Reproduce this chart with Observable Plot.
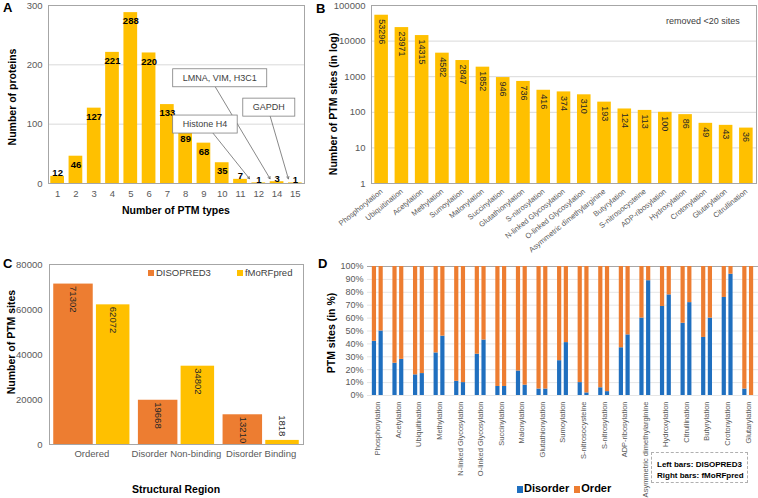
<!DOCTYPE html>
<html><head><meta charset="utf-8">
<script src="https://cdn.jsdelivr.net/npm/d3@7"></script>
<script src="https://cdn.jsdelivr.net/npm/@observablehq/plot@0.6"></script>
<style>
body{margin:0;background:#fff;font-family:"Liberation Sans",Arial,sans-serif;}
#root{position:relative;width:758px;height:498px;overflow:hidden;background:#fff;}
#root > svg, .abs{position:absolute;}
.letter{position:absolute;font-weight:bold;font-size:13px;color:#000;line-height:1;}
.title{position:absolute;font-weight:bold;font-size:10.5px;color:#000;white-space:nowrap;line-height:1;transform:translate(-50%,-50%);}
.vtitle{position:absolute;font-weight:bold;font-size:10.5px;color:#000;white-space:nowrap;line-height:1;transform:translate(-50%,-50%) rotate(-90deg);}
.note{position:absolute;font-size:9px;color:#404040;white-space:nowrap;line-height:1;}
.sw{display:inline-block;vertical-align:middle;}
</style></head><body><div id="root"></div>
<script>
// ---------- DATA ----------
// Panel A
const aTypes = ["1","2","3","4","5","6","7","8","9","10","11","12","14","15"];
const aProteins = [12,46,127,221,288,220,133,89,68,35,7,1,3,1];
const aYTicks = [0,100,200,300];
const aNotes = ["Histone H4","LMNA, VIM, H3C1","GAPDH"];
const aNoteTargets = ["11","14","15"];
// Panel B
const bTypes = ["Phosphorylation","Ubiquitination","Acetylation","Methylation","Sumoylation","Malonylation","Succinylation","Glutathionylation","S-nitrosylation","N-linked Glycosylation","O-linked Glycosylation","Asymmetric dimethylarginine","Butyrylation","S-nitrosocysteine","ADP-ribosylation","Hydroxylation","Crotonylation","Glutarylation","Citrullination"];
const bSites = [53296,23971,14315,4582,2847,1852,946,736,416,374,310,193,124,113,100,86,49,43,36];
const bYTicks = [1,10,100,1000,10000,100000];
// Panel C
const cRegions = ["Ordered","Disorder Non-binding","Disorder Binding"];
const cMethods = ["DISOPRED3","fMoRFpred"];
const cDisopred = [71302,19668,13210];
const cFmorf = [62072,34802,1818];
const cYTicks = [0,20000,40000,60000,80000];
// Panel D
const dTypes = ["Phosphorylation","Acetylation","Ubiquitination","Methylation","N-linked Glycosylation","O-linked Glycosylation","Succinylation","Malonylation","Glutathionylation","Sumoylation","S-nitrosocysteine","S-nitrosylation","ADP-ribosylation","Asymmetric dimethylarginine","Hydroxylation","Citrullination","Butyrylation","Crotonylation","Glutarylation"];
const dDisorderLeft  = [42,25,16,33,11,32,7,19,5,27,10,6,37,60,69,56,45,76,5];   // DISOPRED3, % disorder
const dDisorderRight = [50,28,17,46,10,43,7,8,5,41,2,3,47,89,78,72,60,94,0];     // fMoRFpred, % disorder
const dParts = ["Disorder","Order"];
const dYTicks = [0,10,20,30,40,50,60,70,80,90,100];

// ---------- STYLE ----------
const GOLD = "#FFC000", ORANGE = "#ED7D31", BLUE = "#1F6FBF";
const FRAME = "#a6a6a6", GRID = "#d9d9d9";
const FONT = "'Liberation Sans', Arial, sans-serif";
const root = document.getElementById("root");

function place(svg, left, top){ svg.style.left = left+"px"; svg.style.top = top+"px"; root.appendChild(svg); return svg; }
function addDiv(cls, html, left, top, extra){ const d = document.createElement("div"); d.className = cls; d.innerHTML = html; d.style.left = left+"px"; d.style.top = top+"px"; if (extra) Object.assign(d.style, extra); root.appendChild(d); return d; }
function setAxisFont(svg, prefix, size){ svg.querySelectorAll(`[aria-label^="${prefix}"]`).forEach(g => g.style.fontSize = size); }

// ---------- PANEL A ----------
{
  const W = 318, H = 220, ml = 48, mr = 14, mt = 5, mb = 37;
  const data = aTypes.map((t,i)=>({type:t, n:aProteins[i]}));
  // annotation layout (box anchor & arrow geometry, in data units)
  const notes = [
    {label:aNotes[0], x:"9",  y:100,   dx:1},
    {label:aNotes[1], x:"10", y:178,   dx:-2.5},
    {label:aNotes[2], x:"12", y:128.5, dx:10}
  ];
  const arrowsR = [{x1:"9", y1:85, x2:aNoteTargets[0], y2:8}];
  const arrowsL = [{x1:"10", y1:163, x2:aNoteTargets[1], y2:8}, {x1:"14", y1:114, x2:aNoteTargets[2], y2:8}];
  const p = Plot.plot({
    width:W, height:H, marginLeft:ml, marginRight:mr, marginTop:mt, marginBottom:mb,
    style:{fontFamily:FONT, fontSize:"9.5px", color:"#595959", background:"transparent", overflow:"visible"},
    x:{domain:aTypes, round:false, paddingInner:0.25, paddingOuter:0.125, label:null, tickSize:0, tickPadding:7},
    y:{domain:[0,300], ticks:aYTicks, label:null, tickSize:0, tickPadding:6},
    marks:[
      Plot.ruleY(aYTicks, {stroke:GRID}),
      Plot.barY(data, {x:"type", y:"n", fill:GOLD}),
      Plot.text(data.filter(d=>d.n>=20), {x:"type", y:"n", text:d=>String(d.n), dy:8.5, fill:"#000", fontWeight:"bold", fontSize:9.5}),
      Plot.text(data.filter(d=>d.n<20), {x:"type", y:"n", text:d=>String(d.n), dy:-3, fill:"#000", fontWeight:"bold", fontSize:9.5}),
      Plot.arrow(arrowsR, {x1:"x1", y1:"y1", x2:"x2", y2:"y2", dx:9, stroke:"#555", strokeWidth:0.7, headLength:5}),
      Plot.arrow(arrowsL, {x1:"x1", y1:"y1", x2:"x2", y2:"y2", dx:-7, stroke:"#555", strokeWidth:0.7, headLength:5}),
      ...notes.map(n => Plot.text([n], {x:"x", y:"y", text:"label", dx:n.dx, fill:"#404040", fontSize:9})),
      Plot.frame({stroke:FRAME})
    ]
  });
  place(p, 0, 0);
  // boxes behind the annotation labels
  const sb = p.getBoundingClientRect();
  p.querySelectorAll("text").forEach(t => {
    if (!aNotes.includes(t.textContent)) return;
    const r = t.getBoundingClientRect();
    const rect = document.createElementNS("http://www.w3.org/2000/svg","rect");
    rect.setAttribute("x", r.left - sb.left - 10);
    rect.setAttribute("y", r.top - sb.top - 4);
    rect.setAttribute("width", r.width + 20);
    rect.setAttribute("height", r.height + 8);
    rect.setAttribute("fill", "#fff");
    rect.setAttribute("stroke", "#7f7f7f");
    rect.setAttribute("stroke-width", "0.8");
    const g = t.closest("g");
    g.parentNode.insertBefore(rect, g);
  });
  addDiv("letter", "A", 3, 1);
  addDiv("vtitle", "Number of proteins", 12, 97);
  addDiv("title", "Number of PTM types", 176, 210);
}

// ---------- PANEL B ----------
{
  const W = 438, H = 255;
  const data = bTypes.map((t,i)=>({type:t, n:bSites[i]}));
  const p = Plot.plot({
    width:W, height:H, marginLeft:51, marginRight:2, marginTop:5, marginBottom:72,
    style:{fontFamily:FONT, fontSize:"9.5px", color:"#595959", background:"transparent", overflow:"visible"},
    x:{domain:bTypes, round:false, paddingInner:0.33, paddingOuter:0.165, tickRotate:-39, label:null, tickSize:0, tickPadding:7},
    y:{type:"log", domain:[1,100000], ticks:bYTicks, tickFormat:d=>String(d), label:null, tickSize:0, tickPadding:6},
    marks:[
      Plot.ruleY(bYTicks, {stroke:GRID}),
      Plot.barY(data, {x:"type", y1:1, y2:"n", fill:GOLD}),
      Plot.text(data, {x:"type", y:"n", text:d=>String(d.n), rotate:90, textAnchor:"start", dy:4, fill:"#262626", fontSize:9}),
      Plot.frame({stroke:FRAME})
    ]
  });
  place(p, 320, 0);
  setAxisFont(p, "x-axis", "7.5px");
  addDiv("letter", "B", 316, 2);
  addDiv("vtitle", "Number of PTM sites (in log)", 333, 104);
  addDiv("note", "removed &lt;20 sites", 666, 17);
}

// ---------- PANEL C ----------
{
  const W = 318, H = 215, ml = 49, mr = 15, pI = 0.1, pO = 0.05;
  const bw = (W-ml-mr)/(cRegions.length - pI + 2*pO)*(1-pI);
  const wL = 39.5, wR = 33.5;
  const data = cRegions.map((r,i)=>({region:r, a:cDisopred[i], b:cFmorf[i]}));
  const tx = {fill:"#262626", fontSize:9.5, rotate:90};
  const p = Plot.plot({
    width:W, height:H, marginLeft:ml, marginRight:mr, marginTop:14, marginBottom:21,
    style:{fontFamily:FONT, fontSize:"9.5px", color:"#595959", background:"transparent", overflow:"visible"},
    x:{domain:cRegions, round:false, paddingInner:pI, paddingOuter:pO, label:null, tickSize:0, tickPadding:6},
    y:{domain:[0,80000], ticks:cYTicks, tickFormat:d=>String(d), label:null, tickSize:0, tickPadding:7},
    marks:[
      Plot.barY(data, {x:"region", y:"a", fill:ORANGE, insetRight:bw-wL}),
      Plot.barY(data, {x:"region", y:"b", fill:GOLD, insetLeft:bw-wR}),
      Plot.text(data.filter(d=>d.a>=5000), {x:"region", y:"a", text:d=>String(d.a), textAnchor:"start", dx:-bw/2+wL/2, dy:2, ...tx}),
      Plot.text(data.filter(d=>d.a<5000), {x:"region", y:"a", text:d=>String(d.a), textAnchor:"end", dx:-bw/2+wL/2, dy:-4, ...tx}),
      Plot.text(data.filter(d=>d.b>=5000), {x:"region", y:"b", text:d=>String(d.b), textAnchor:"start", dx:bw/2-wR/2, dy:2, ...tx}),
      Plot.text(data.filter(d=>d.b<5000), {x:"region", y:"b", text:d=>String(d.b), textAnchor:"end", dx:bw/2-wR/2, dy:-4, ...tx}),
      Plot.frame({stroke:FRAME})
    ]
  });
  place(p, 0, 250);
  addDiv("letter", "C", 3, 257);
  addDiv("vtitle", "Number of PTM sites", 11, 342);
  addDiv("title", "Structural Region", 176, 489);
  const leg = `<span class="sw" style="width:6px;height:6px;background:${ORANGE};margin-right:2px"></span>${cMethods[0]}` +
              `<span class="sw" style="width:6px;height:6px;background:${GOLD};margin:0 2px 0 26px"></span>${cMethods[1]}`;
  addDiv("note", leg, 148, 268, {fontSize:"9.5px", color:"#404040"});
}

// ---------- PANEL D ----------
{
  const W = 438, H = 243, ml = 47, mr = 0, pI = 0.47, pO = 0.235;
  const bw = (W-ml-mr)/(dTypes.length - pI + 2*pO)*(1-pI);
  const barW = 4.2;
  const mk = arr => dTypes.flatMap((t,i)=>[{type:t, part:dParts[0], v:arr[i]}, {type:t, part:dParts[1], v:100-arr[i]}]);
  const p = Plot.plot({
    width:W, height:H, marginLeft:ml, marginRight:mr, marginTop:11, marginBottom:103,
    style:{fontFamily:FONT, fontSize:"9px", color:"#595959", background:"transparent", overflow:"visible"},
    x:{domain:dTypes, round:false, paddingInner:pI, paddingOuter:pO, tickRotate:-90, label:null, tickSize:0, tickPadding:6},
    y:{domain:[0,100], ticks:dYTicks, tickFormat:d=>d+"%", label:null, tickSize:0, tickPadding:4},
    color:{domain:dParts, range:[BLUE, ORANGE]},
    marks:[
      Plot.ruleY(dYTicks.slice(0,-1), {stroke:"#e6e6e6"}),
      Plot.ruleY([100], {stroke:FRAME}),
      Plot.barY(mk(dDisorderLeft),  {x:"type", y:"v", fill:"part", insetRight:bw-barW}),
      Plot.barY(mk(dDisorderRight), {x:"type", y:"v", fill:"part", insetLeft:bw-barW})
    ]
  });
  place(p, 320, 255);
  setAxisFont(p, "x-axis", "7.5px");
  addDiv("letter", "D", 318, 257);
  addDiv("vtitle", "PTM sites (in %)", 331, 333);
  const leg = `<span class="sw" style="width:6px;height:7px;background:${BLUE};margin-right:1px"></span>${dParts[0]} ` +
              `<span class="sw" style="width:6px;height:7px;background:${ORANGE};margin:0 1px 0 2px"></span>${dParts[1]}`;
  addDiv("note", leg, 517, 483, {fontSize:"11px", fontWeight:"bold", color:"#000"});
  addDiv("note", "Left bars: DISOPRED3<br>Right bars: fMoRFpred", 651, 452,
    {width:"97px", height:"31px", boxSizing:"border-box", border:"1px dashed #b0b0b0", background:"#fff",
     fontSize:"8px", fontWeight:"bold", color:"#000", padding:"6px 0 0 5px", lineHeight:"11px"});
}
</script></body></html>
